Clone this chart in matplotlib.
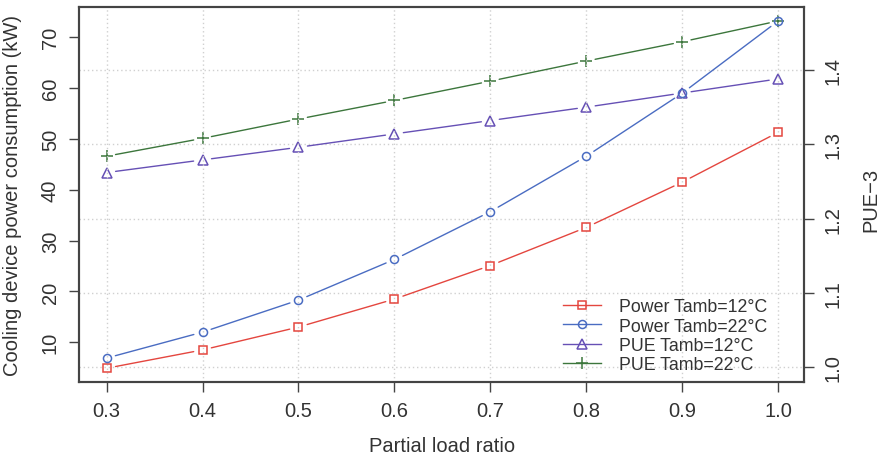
import matplotlib
matplotlib.use("Agg")
import matplotlib.pyplot as plt
from matplotlib.lines import Line2D

plt.rcParams['font.family'] = ['Liberation Sans', 'DejaVu Sans']

# data
load = [0.3, 0.4, 0.5, 0.6, 0.7, 0.8, 0.9, 1.0]
power_12 = [4.9, 8.5, 13.0, 18.5, 25.1, 32.6, 41.5, 51.3]
power_22 = [6.9, 12.0, 18.3, 26.3, 35.7, 46.6, 59.0, 73.2]
pue_12 = [1.262, 1.279, 1.296, 1.314, 1.332, 1.350, 1.369, 1.388]
pue_22 = [1.284, 1.308, 1.334, 1.359, 1.385, 1.412, 1.438, 1.466]

x_ticks = [0.3, 0.4, 0.5, 0.6, 0.7, 0.8, 0.9, 1.0]
left_ticks = [10, 20, 30, 40, 50, 60, 70]
right_ticks = [1.0, 1.1, 1.2, 1.3, 1.4]

c_red = '#E4463F'
c_blue = '#4A6CC2'
c_purple = '#6650B5'
c_green = '#3C763C'
c_axis = '#444444'
c_text = '#333333'

fig = plt.figure(figsize=(8.83, 4.56), dpi=100)
ax = fig.add_axes([79.3 / 883, 1 - 382.7 / 456, (804 - 79.3) / 883, (382.7 - 8.3) / 456])
ax2 = ax.twinx()
ax.set_zorder(ax2.get_zorder() + 1)
ax.patch.set_visible(False)

ax.set_xlim(0.2715, 1.027)
ax.set_ylim(2.25, 75.9)
ax2.set_ylim(0.9805, 1.4844)

grid_kw = dict(color='#d0d0d0', lw=1.0, linestyle=(0, (1, 2)), zorder=0)
for xv in x_ticks:
    ax.axvline(xv, **grid_kw)
for yv in right_ticks:
    ax2.axhline(yv, **grid_kw)


def series(a, xs, ys, color, marker, ms):
    # R type="b": line segments broken around the points
    for i in range(len(xs) - 1):
        a.annotate('', xy=(xs[i + 1], ys[i + 1]), xytext=(xs[i], ys[i]),
                   arrowprops=dict(arrowstyle='-', color=color, lw=1.0,
                                   shrinkA=6.5, shrinkB=6.5))
    a.plot(xs, ys, linestyle='none', marker=marker, ms=ms, mfc='none',
           mec=color, mew=1.1, zorder=3)


series(ax2, load, pue_12, c_purple, '^', 7.5)
series(ax2, load, pue_22, c_green, '+', 8.5)
series(ax, load, power_12, c_red, 's', 5.8)
series(ax, load, power_22, c_blue, 'o', 5.8)

ax.set_xticks(x_ticks)
ax.set_xticklabels(['%.1f' % v for v in x_ticks])
ax.set_yticks(left_ticks)
ax.set_yticklabels([str(v) for v in left_ticks], rotation=90, va='center')
ax2.set_yticks(right_ticks)
ax2.set_yticklabels(['%.1f' % v for v in right_ticks], rotation=90, va='center')

for a in (ax, ax2):
    a.tick_params(direction='out', length=7, width=1.0, pad=7, colors=c_axis,
                  labelcolor=c_text, labelsize=14.5)
    for s in a.spines.values():
        s.set_color(c_axis)
        s.set_linewidth(1.5)

fig.text(441.7 / 883, 1 - 446.7 / 456, 'Partial load ratio', ha='center', va='center',
         fontsize=14.5, color=c_text)
fig.text(13 / 883, 1 - 196 / 456, 'Cooling device power consumption (kW)', ha='center',
         va='center', rotation=90, fontsize=14.5, color=c_text)
fig.text(871 / 883, 1 - 200 / 456, 'PUE\u22123', ha='center', va='center', rotation=90,
         fontsize=14.5, color=c_text)

handles = [
    Line2D([], [], color=c_red, lw=1.0, marker='s', ms=5.8, mfc='none', mew=1.1),
    Line2D([], [], color=c_blue, lw=1.0, marker='o', ms=5.8, mfc='none', mew=1.1),
    Line2D([], [], color=c_purple, lw=1.0, marker='^', ms=7.5, mfc='none', mew=1.1),
    Line2D([], [], color=c_green, lw=1.0, marker='+', ms=8.5, mfc='none', mew=1.1),
]
labels = ['Power Tamb=12\u00b0C', 'Power Tamb=22\u00b0C', 'PUE Tamb=12\u00b0C', 'PUE Tamb=22\u00b0C']
leg = ax.legend(handles, labels, loc='upper left', frameon=False, fontsize=12.8,
                bbox_to_anchor=(563.3 / 883, 1 - 299.5 / 456),
                bbox_transform=fig.transFigure, borderpad=0, borderaxespad=0,
                handlelength=2.1, handletextpad=1.05, labelspacing=0.12)
for t in leg.get_texts():
    t.set_color(c_text)

fig.savefig('out.png', dpi=100)
